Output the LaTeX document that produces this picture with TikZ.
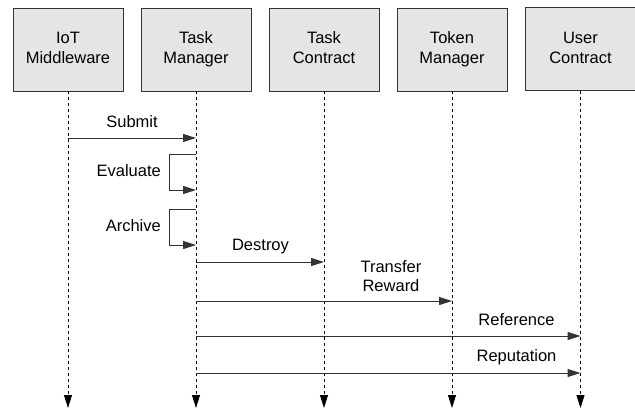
\documentclass[tikz,border=0pt]{standalone}
\usepackage{fontspec}
\setmainfont{Liberation Sans}
\usetikzlibrary{arrows.meta}
\begin{document}
\begin{tikzpicture}[x=1pt,y=-1pt,
  actor/.style={draw=black!80,fill=black!10,line width=0.8pt,minimum width=110pt,minimum height=83pt,align=center,inner sep=0pt,font=\fontsize{16.5}{20}\selectfont},
  life/.style={draw=black,line width=0.8pt,dash pattern=on 3pt off 3pt,-{Triangle[length=13pt,width=8pt]}},
  msg/.style={draw=black!80,line width=1pt,-{Triangle[length=13pt,width=8pt]}},
  lbl/.style={font=\fontsize{16.5}{19}\selectfont,inner sep=0pt,align=center}]
\useasboundingbox (0,0) rectangle (635,408);
\node[actor] (iot) at (68,49.5) {\strut IoT\\\strut Middleware};
\node[actor] (tm) at (196,49.5) {\strut Task\\\strut Manager};
\node[actor] (tc) at (324,49.5) {\strut Task\\\strut Contract};
\node[actor] (tok) at (452,49.5) {\strut Token\\\strut Manager};
\node[actor] (uc) at (580.5,49) {\strut User\\\strut Contract};
\foreach \n in {iot,tm,tc,tok,uc}{
  \coordinate (\n-end) at (\n.south |- 0,408);
  \draw[life] (\n.south) -- (\n-end);
}
% Submit
\coordinate (s1) at (iot.south |- 0,138);
\coordinate (s2) at (tm.south |- 0,138);
\draw[msg] (s1) -- (s2);
\node[lbl] (submit) at (132,122) {Submit};
% Evaluate
\coordinate (e1) at (tm.south |- 0,154);
\coordinate (e2) at (tm.south |- 0,190);
\draw[msg] (e1) -- (169,154) -- (169,190) -- (e2);
\node[lbl,anchor=east] (eval) at (161,170.5) {Evaluate};
% Archive
\coordinate (a1) at (tm.south |- 0,209);
\coordinate (a2) at (tm.south |- 0,245);
\draw[msg] (a1) -- (169,209) -- (169,245) -- (a2);
\node[lbl,anchor=east] (arch) at (161,225.5) {Archive};
% Destroy
\coordinate (d1) at (tm.south |- 0,262);
\coordinate (d2) at (tc.south |- 0,262);
\draw[msg] (d1) -- (d2);
\node[lbl] (destroy) at (260.5,246.5) {Destroy};
% Transfer Reward
\coordinate (t1) at (tm.south |- 0,301);
\coordinate (t2) at (tok.south |- 0,301);
\draw[msg] (t1) -- (t2);
\node[lbl] (transfer) at (391,276) {Transfer\\Reward};
% Reference
\coordinate (r1) at (tm.south |- 0,336);
\coordinate (r2) at (uc.south |- 0,336);
\draw[msg] (r1) -- (r2);
\node[lbl] (ref) at (516.5,320) {Reference};
% Reputation
\coordinate (p1) at (tm.south |- 0,373);
\coordinate (p2) at (uc.south |- 0,373);
\draw[msg] (p1) -- (p2);
\node[lbl] (rep) at (516.5,357.5) {Reputation};
\end{tikzpicture}
\end{document}
